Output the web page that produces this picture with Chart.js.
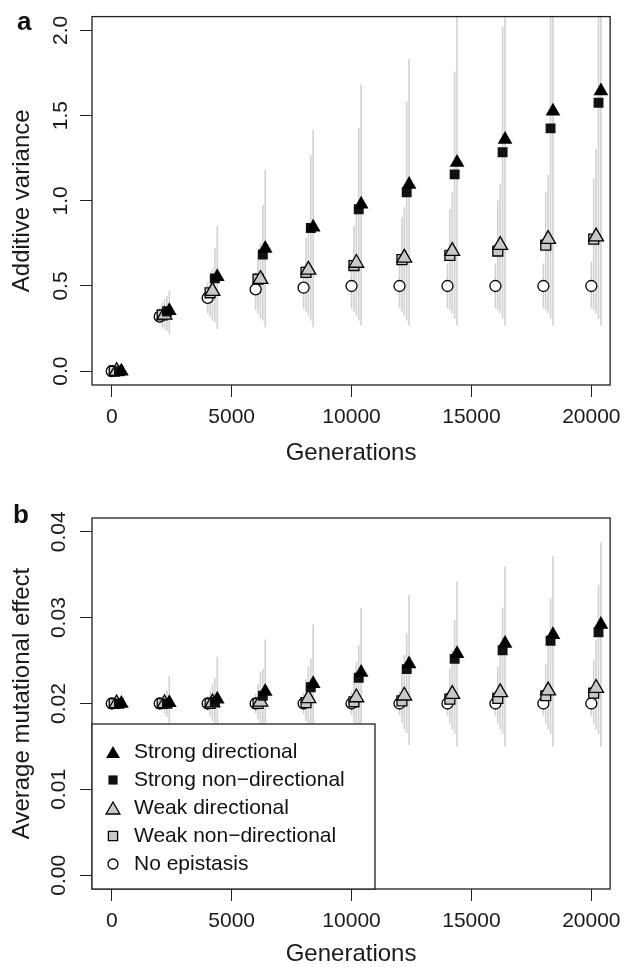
<!DOCTYPE html>
<html>
<head>
<meta charset="utf-8">
<script src="https://cdn.jsdelivr.net/npm/chart.js@4/dist/chart.umd.min.js"></script>
<style>
  html, body { margin: 0; padding: 0; background: #fff; overflow: hidden; }
  canvas { position: absolute; left: 0; }
  #chartA { top: 0; }
  #chartB { top: 480px; }
</style>
</head>
<body>
<canvas id="chartA" width="629" height="480"></canvas>
<canvas id="chartB" width="629" height="487"></canvas>
<script>
// generations sampled
const gens = [0, 2000, 4000, 6000, 8000, 10000, 12000, 14000, 16000, 18000, 20000];
const xTicks = [0, 5000, 10000, 15000, 20000];
const xTickLabels = ['0', '5000', '10000', '15000', '20000'];

const yTicksA = [0, 0.5, 1, 1.5, 2];
const yTickLabelsA = ['0.0', '0.5', '1.0', '1.5', '2.0'];
const yTicksB = [0, 0.01, 0.02, 0.03, 0.04];
const yTickLabelsB = ['0.00', '0.01', '0.02', '0.03', '0.04'];

const seriesNames = ['Strong directional', 'Strong non\u2212directional', 'Weak directional', 'Weak non\u2212directional', 'No epistasis'];

// panel a: additive variance (mean, low, high)
const varStrongDir = [0, 0.355, 0.555, 0.72, 0.845, 0.98, 1.095, 1.225, 1.36, 1.525, 1.645];
const varStrongNon = [0, 0.35, 0.545, 0.685, 0.84, 0.95, 1.05, 1.155, 1.285, 1.425, 1.575];
const varWeakDir = [0, 0.33, 0.47, 0.54, 0.595, 0.635, 0.665, 0.705, 0.74, 0.775, 0.79];
const varWeakNon = [0, 0.33, 0.46, 0.54, 0.58, 0.62, 0.655, 0.68, 0.705, 0.74, 0.775];
const varNoEpi = [0, 0.32, 0.43, 0.48, 0.49, 0.5, 0.5, 0.5, 0.5, 0.5, 0.5];

const varHiStrongDir = [0, 0.47, 0.85, 1.18, 1.415, 1.68, 1.83, 2.2, 2.3, 2.4, 2.5];
const varHiStrongNon = [0, 0.44, 0.72, 0.975, 1.265, 1.425, 1.58, 1.755, 2.02, 2.2, 2.3];
const varHiWeakDir = [0, 0.42, 0.6, 0.75, 0.84, 0.92, 0.96, 1.05, 1.1, 1.15, 1.3];
const varHiWeakNon = [0, 0.4, 0.57, 0.7, 0.78, 0.85, 0.9, 0.95, 1.0, 1.05, 1.13];
const varHiNoEpi = [0, 0.37, 0.52, 0.58, 0.62, 0.62, 0.63, 0.63, 0.63, 0.63, 0.64];

const varLoStrongDir = [0, 0.22, 0.25, 0.26, 0.26, 0.27, 0.27, 0.27, 0.27, 0.27, 0.27];
const varLoStrongNon = [0, 0.24, 0.29, 0.3, 0.3, 0.3, 0.3, 0.31, 0.31, 0.31, 0.31];
const varLoWeakDir = [0, 0.25, 0.3, 0.31, 0.33, 0.33, 0.33, 0.34, 0.34, 0.34, 0.34];
const varLoWeakNon = [0, 0.26, 0.32, 0.34, 0.35, 0.35, 0.35, 0.36, 0.36, 0.36, 0.36];
const varLoNoEpi = [0, 0.28, 0.34, 0.36, 0.37, 0.37, 0.37, 0.37, 0.37, 0.37, 0.37];

// panel b: average mutational effect (mean, low, high)
const effStrongDir = [0.02, 0.0201, 0.0205, 0.0214, 0.0223, 0.0236, 0.0246, 0.0258, 0.027, 0.028, 0.0292];
const effStrongNon = [0.02, 0.02, 0.0202, 0.0209, 0.0219, 0.023, 0.024, 0.0252, 0.0262, 0.0273, 0.0283];
const effWeakDir = [0.02, 0.02, 0.0201, 0.0202, 0.0206, 0.0207, 0.0209, 0.0211, 0.0213, 0.0215, 0.0218];
const effWeakNon = [0.02, 0.02, 0.02, 0.02, 0.0201, 0.0202, 0.0203, 0.0205, 0.0206, 0.0209, 0.0212];
const effNoEpi = [0.02, 0.02, 0.02, 0.02, 0.02, 0.02, 0.02, 0.02, 0.02, 0.02, 0.02];

const effHiStrongDir = [0.02, 0.0232, 0.0254, 0.0274, 0.0292, 0.0311, 0.0326, 0.0342, 0.0359, 0.0371, 0.0387];
const effHiStrongNon = [0.02, 0.0215, 0.0229, 0.024, 0.0252, 0.0268, 0.0281, 0.0297, 0.0311, 0.0322, 0.0338];
const effHiWeakDir = [0.02, 0.0212, 0.0222, 0.0236, 0.0243, 0.0248, 0.0256, 0.0262, 0.0266, 0.027, 0.0274];
const effHiWeakNon = [0.02, 0.0208, 0.0215, 0.0222, 0.0228, 0.0232, 0.0236, 0.024, 0.0243, 0.0246, 0.025];
const effHiNoEpi = [0.02, 0.0205, 0.0208, 0.0211, 0.0212, 0.0213, 0.0214, 0.0214, 0.0214, 0.0214, 0.0214];

const effLoStrongDir = [0.02, 0.0175, 0.0165, 0.016, 0.0155, 0.0152, 0.0152, 0.015, 0.015, 0.015, 0.015];
const effLoStrongNon = [0.02, 0.0185, 0.0175, 0.017, 0.0168, 0.0167, 0.0166, 0.0165, 0.0165, 0.0165, 0.0165];
const effLoWeakDir = [0.02, 0.0188, 0.018, 0.0175, 0.0172, 0.0172, 0.017, 0.017, 0.017, 0.017, 0.017];
const effLoWeakNon = [0.02, 0.0192, 0.0186, 0.0182, 0.018, 0.0178, 0.0178, 0.0177, 0.0177, 0.0177, 0.0177];
const effLoNoEpi = [0.02, 0.0195, 0.0192, 0.0189, 0.0188, 0.0187, 0.0187, 0.0186, 0.0186, 0.0186, 0.0186];

// small sideways shift (in generations) so the groups do not sit on top of each other
const xShift = [400, 300, 200, 100, 0];

const FONT = '"Liberation Sans", Arial, Helvetica, sans-serif';
Chart.defaults.font.family = FONT;
Chart.defaults.color = '#1a1a1a';

// marker look per series, same order as seriesNames
const markers = [
  {style: 'triangle', radius: 8.5, fill: '#000', border: 0},
  {style: 'rect', radius: 7, fill: '#111', border: 0},
  {style: 'triangle', radius: 8.5, fill: '#c8c8c8', border: 1.3},
  {style: 'rect', radius: 7, fill: '#c8c8c8', border: 1.3},
  {style: 'circle', radius: 5.5, fill: '#fff', border: 1.3}
];

function makeDatasets(means, lows, highs) {
  var sets = [];
  for (let k = 0; k < means.length; k++) {
    sets.push({
      type: 'bar',
      label: seriesNames[k] + ' range',
      data: gens.map((g, i) => ({x: g + xShift[k], y: [lows[k][i], highs[k][i]]})),
      backgroundColor: '#d2d2d2',
      borderWidth: 0,
      barThickness: 1,
      grouped: false,
      order: 10 + k
    });
  }
  for (let k = 0; k < means.length; k++) {
    const m = markers[k];
    sets.push({
      type: 'scatter',
      label: seriesNames[k],
      data: gens.map((g, i) => ({x: g + xShift[k], y: means[k][i]})),
      pointStyle: m.style,
      pointRadius: m.radius,
      pointHoverRadius: m.radius,
      pointBackgroundColor: m.fill,
      pointBorderColor: '#000',
      pointBorderWidth: m.border,
      order: k
    });
  }
  return sets;
}

// box round the plot and the panel letter
const boxPlugin = {
  id: 'box',
  afterDatasetsDraw(chart, args, opts) {
    const a = chart.chartArea, ctx = chart.ctx;
    ctx.save();
    ctx.strokeStyle = '#222';
    ctx.lineWidth = 1.3;
    ctx.strokeRect(a.left, a.top, a.right - a.left, a.bottom - a.top);
    ctx.fillStyle = '#111';
    ctx.font = 'bold 26px ' + FONT;
    ctx.textBaseline = 'alphabetic';
    ctx.fillText(opts.letter, opts.lx, opts.ly);
    ctx.restore();
  }
};

// boxed legend in the lower left of panel b
const legendPlugin = {
  id: 'boxLegend',
  afterDraw(chart, args, opts) {
    if (!opts.show) return;
    const a = chart.chartArea, ctx = chart.ctx;
    const top = 244, right = 375;
    ctx.save();
    ctx.fillStyle = '#fff';
    ctx.fillRect(a.left, top, right - a.left, a.bottom - top);
    ctx.strokeStyle = '#222';
    ctx.lineWidth = 1.3;
    ctx.strokeRect(a.left, top, right - a.left, a.bottom - top);
    ctx.font = '21px ' + FONT;
    ctx.textBaseline = 'middle';
    for (let k = 0; k < seriesNames.length; k++) {
      const m = markers[k];
      const y = 272 + k * 28;
      ctx.fillStyle = m.fill;
      ctx.strokeStyle = '#000';
      ctx.lineWidth = m.border;
      Chart.helpers.drawPoint(ctx, {pointStyle: m.style, radius: m.radius - 0.5, rotation: 0, borderWidth: m.border}, 113, y + (m.style === 'triangle' ? 2 : 0));
      ctx.fillStyle = '#111';
      ctx.fillText(seriesNames[k], 134, y);
    }
    ctx.restore();
  }
};

function makeOptions(p) {
  return {
    responsive: false,
    animation: false,
    layout: {padding: {top: p.padTop, right: 13, left: 0, bottom: 0}},
    plugins: {
      legend: {display: false},
      tooltip: {enabled: false},
      box: {letter: p.letter, lx: p.lx, ly: p.ly},
      boxLegend: {show: p.legend}
    },
    scales: {
      x: {
        type: 'linear',
        min: -825,
        max: 20784,
        offset: false,
        afterBuildTicks: s => { s.ticks = xTicks.map(v => ({value: v})); },
        afterFit: s => { s.height = p.xHeight; },
        grid: {drawOnChartArea: false, drawTicks: true, tickLength: 12, color: '#222', lineWidth: 1, offset: false},
        border: {display: false},
        ticks: {
          font: {size: 21},
          padding: 8,
          maxRotation: 0,
          autoSkip: false,
          callback: v => xTickLabels[xTicks.indexOf(v)]
        },
        title: {display: true, text: 'Generations', font: {size: 24, lineHeight: 1}, padding: {top: 0, bottom: p.xTitlePad}}
      },
      y: {
        type: 'linear',
        min: p.yMin,
        max: p.yMax,
        afterBuildTicks: s => { s.ticks = p.yTicks.map(v => ({value: v})); },
        afterFit: s => { s.width = 92; },
        grid: {drawOnChartArea: false, drawTicks: true, tickLength: 12, color: '#222', lineWidth: 1},
        border: {display: false},
        ticks: {
          font: {size: 21},
          padding: p.yTickPad,
          minRotation: 90,
          maxRotation: 90,
          crossAlign: 'center',
          autoSkip: false,
          callback: v => p.yLabels[p.yTicks.indexOf(v)]
        },
        title: {display: true, text: p.yTitle, font: {size: 24, lineHeight: 1}, padding: {top: 10, bottom: 0}}
      }
    }
  };
}

new Chart(document.getElementById('chartA').getContext('2d'), {
  type: 'scatter',
  data: {
    datasets: makeDatasets(
      [varStrongDir, varStrongNon, varWeakDir, varWeakNon, varNoEpi],
      [varLoStrongDir, varLoStrongNon, varLoWeakDir, varLoWeakNon, varLoNoEpi],
      [varHiStrongDir, varHiStrongNon, varHiWeakDir, varHiWeakNon, varHiNoEpi])
  },
  options: makeOptions({
    padTop: 13, xHeight: 95, xTitlePad: 15,
    yMin: -0.081, yMax: 2.081, yTicks: yTicksA, yLabels: yTickLabelsA, yTickPad: 4,
    yTitle: 'Additive variance', letter: 'a', lx: 17, ly: 30, legend: false
  }),
  plugins: [boxPlugin, legendPlugin]
});

new Chart(document.getElementById('chartB').getContext('2d'), {
  type: 'scatter',
  data: {
    datasets: makeDatasets(
      [effStrongDir, effStrongNon, effWeakDir, effWeakNon, effNoEpi],
      [effLoStrongDir, effLoStrongNon, effLoWeakDir, effLoWeakNon, effLoNoEpi],
      [effHiStrongDir, effHiStrongNon, effHiWeakDir, effHiWeakNon, effHiNoEpi])
  },
  options: makeOptions({
    padTop: 38, xHeight: 78, xTitlePad: 1,
    yMin: -0.0016, yMax: 0.0416, yTicks: yTicksB, yLabels: yTickLabelsB, yTickPad: 0,
    yTitle: 'Average mutational effect', letter: 'b', lx: 13, ly: 43, legend: true
  }),
  plugins: [boxPlugin, legendPlugin]
});
</script>
</body>
</html>
